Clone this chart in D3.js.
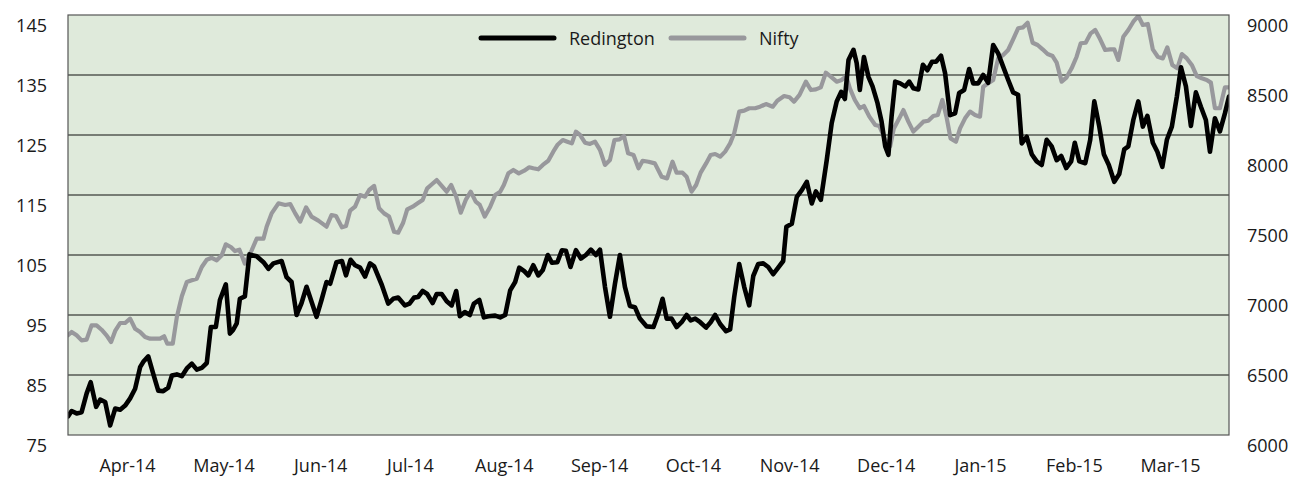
<!DOCTYPE html>
<html>
<head>
<meta charset="utf-8">
<script src="https://cdn.jsdelivr.net/npm/d3@7"></script>
<style>
  body { margin: 0; background: #fff; }
  svg text { font-family: "Open Sans", "Noto Sans", sans-serif; fill: #1a1a1a; }
</style>
</head>
<body>
<svg id="chart" width="1300" height="477"></svg>
<script>
// DATA  (x = trading day index)
var monthLabels = ["Apr-14", "May-14", "Jun-14", "Jul-14", "Aug-14", "Sep-14",
                   "Oct-14", "Nov-14", "Dec-14", "Jan-15", "Feb-15", "Mar-15"];
var monthDays = [13, 34.3, 55.6, 75.4, 96.1, 117.1, 137.8, 159, 180.3, 201.1, 221.8, 243];
var leftTicks = [75, 85, 95, 105, 115, 125, 135, 145];
var rightTicks = [6000, 6500, 7000, 7500, 8000, 8500, 9000];

var redington = [[0,78.1],[0.8,79.0],[1.9,78.6],[3.0,78.8],[4.1,81.9],[5.0,83.8],[6.2,79.7],[7.1,80.9],[8.2,80.5],[9.3,76.6],[10.4,79.4],[11.5,79.2],[12.6,79.9],[13.7,81.1],[14.8,82.7],[15.9,86.3],[16.6,87.2],[17.7,88.1],[18.8,85.2],[19.9,82.4],[21.0,82.3],[22.1,82.9],[22.9,84.9],[24.0,85.1],[25.1,84.8],[26.2,86.1],[27.3,86.9],[28.4,85.9],[29.5,86.2],[30.6,87.0],[31.5,93.0],[32.6,93.0],[33.5,97.5],[34.8,100.1],[35.7,91.9],[36.4,92.5],[37.2,93.6],[37.9,97.7],[39.0,98.1],[40.0,105.1],[41.6,104.8],[43.1,103.8],[44.2,102.7],[45.3,103.6],[47.1,104.0],[48.2,101.3],[49.3,100.5],[50.4,95.0],[51.5,97.0],[52.6,99.7],[53.7,97.2],[54.8,94.7],[55.9,97.5],[57.0,100.5],[57.8,100.2],[59.2,103.8],[60.4,104.0],[61.3,101.6],[62.3,104.2],[63.3,103.3],[64.4,102.9],[65.5,101.4],[66.6,103.6],[67.5,103.1],[69.2,100.0],[70.6,96.9],[71.7,97.7],[72.8,97.9],[74.3,96.6],[75.3,96.9],[76.3,97.9],[77.2,98.0],[78.2,99.0],[79.2,98.5],[80.4,97.0],[81.3,98.5],[82.4,98.5],[83.5,97.3],[84.6,96.6],[85.6,99.0],[86.4,94.8],[87.5,95.5],[88.6,95.0],[89.5,96.9],[90.7,97.5],[91.7,94.6],[92.7,94.8],[94.2,94.9],[95.3,94.6],[96.4,95.0],[97.5,99.1],[98.6,100.5],[99.5,102.9],[100.6,102.3],[101.5,101.6],[102.6,103.3],[103.7,101.6],[104.7,102.5],[105.8,105.0],[106.7,103.7],[107.9,103.8],[108.9,105.8],[109.8,105.7],[110.8,103.0],[112.0,105.8],[113.1,104.4],[114.2,105.0],[115.3,105.9],[116.4,105.0],[117.3,105.9],[118.4,99.7],[119.5,94.7],[120.6,100.2],[121.7,105.0],[122.8,99.7],[123.9,96.5],[125.0,96.3],[126.1,94.4],[127.6,93.1],[129.1,93.0],[130.2,95.3],[131.1,97.7],[132.0,94.4],[133.1,94.4],[134.2,93.0],[135.3,93.8],[136.4,95.0],[137.3,94.1],[138.3,94.4],[139.4,93.8],[140.7,92.9],[141.7,93.8],[142.7,95.0],[143.8,93.5],[145.1,92.3],[146.0,92.6],[146.9,98.0],[148.0,103.5],[149.1,99.7],[150.2,96.6],[151.1,101.5],[152.2,103.5],[153.3,103.6],[154.4,103.0],[155.5,101.8],[156.6,102.9],[157.7,104.0],[158.4,109.7],[159.6,110.2],[160.7,114.7],[161.8,115.8],[162.9,117.2],[164.0,113.6],[164.9,115.6],[166.0,114.2],[167.3,120.8],[168.4,127.0],[169.5,130.6],[170.5,132.2],[171.3,131.0],[172.1,137.5],[173.2,139.2],[173.9,137.0],[174.6,132.5],[175.5,138.0],[176.5,134.7],[177.4,133.1],[178.5,130.3],[179.4,127.2],[180.2,123.1],[180.9,121.7],[181.6,128.1],[182.4,133.9],[183.5,133.6],[184.6,133.1],[185.5,133.9],[186.4,132.8],[187.5,132.6],[188.5,136.7],[189.5,135.8],[190.5,137.2],[191.4,137.2],[192.5,138.2],[193.4,135.3],[194.5,128.3],[195.6,128.6],[196.5,132.0],[197.6,132.5],[198.7,136.0],[199.6,133.6],[200.7,133.6],[201.8,135.0],[202.9,133.7],[204.0,140.0],[205.1,138.6],[206.2,136.4],[207.3,134.2],[208.4,132.1],[209.5,131.7],[210.3,123.6],[211.4,124.7],[212.5,121.8],[213.6,120.6],[214.7,120.0],[215.8,124.2],[216.9,123.1],[218.0,120.8],[219.0,121.5],[220.1,119.5],[221.2,120.6],[222.0,123.7],[223.0,120.6],[224.3,120.3],[225.4,124.2],[226.3,130.6],[227.4,126.4],[228.4,121.8],[229.5,120.0],[230.7,117.2],[231.8,118.5],[232.9,122.6],[233.8,123.1],[234.9,127.5],[236.0,130.6],[237.0,126.4],[238.0,128.2],[239.2,123.7],[240.2,122.2],[241.3,119.7],[242.3,124.2],[243.4,126.4],[244.5,131.4],[245.4,136.3],[246.5,133.1],[247.6,126.5],[248.7,132.1],[249.8,129.7],[250.9,127.5],[251.8,122.2],[252.9,127.8],[254.0,125.6],[255.1,128.6],[256.0,131.4]];

var nifty = [[0,6712],[0.8,6736],[1.9,6712],[3.0,6676],[4.1,6681],[5.2,6783],[6.3,6783],[7.4,6752],[8.5,6712],[9.5,6664],[10.4,6743],[11.5,6800],[12.6,6800],[13.7,6831],[14.8,6759],[15.9,6736],[17.0,6700],[18.1,6688],[19.2,6688],[20.3,6688],[21.2,6705],[21.9,6652],[23.1,6652],[24.0,6843],[25.1,6991],[26.2,7093],[27.3,7105],[28.4,7116],[29.5,7200],[30.6,7252],[31.7,7266],[32.8,7248],[33.9,7284],[34.8,7362],[35.9,7343],[36.8,7314],[37.8,7324],[39.0,7224],[40.5,7319],[41.6,7402],[43.1,7402],[43.8,7488],[44.9,7583],[46.4,7655],[47.9,7643],[49.0,7650],[50.1,7583],[51.2,7524],[52.5,7626],[53.7,7560],[55.2,7531],[57.0,7488],[58.1,7571],[59.1,7564],[60.4,7483],[61.3,7493],[62.2,7602],[63.3,7631],[64.4,7714],[65.5,7702],[66.4,7750],[67.5,7779],[68.6,7619],[69.7,7583],[70.8,7560],[71.9,7452],[72.8,7445],[73.9,7516],[74.8,7612],[76.0,7631],[77.1,7655],[78.2,7679],[79.2,7762],[80.3,7793],[81.3,7821],[82.4,7779],[83.5,7738],[84.5,7786],[85.6,7702],[86.6,7588],[87.7,7679],[88.8,7738],[89.9,7667],[90.8,7643],[91.9,7560],[93.1,7631],[94.2,7714],[95.3,7738],[96.1,7786],[97.1,7869],[98.2,7893],[99.4,7869],[100.6,7888],[101.7,7912],[102.6,7905],[103.7,7898],[104.7,7929],[105.9,7959],[107.0,8024],[107.9,8071],[109.1,8107],[110.1,8095],[111.1,8083],[112.0,8167],[112.9,8143],[114.0,8088],[115.1,8079],[116.2,8095],[117.3,8036],[118.4,7929],[119.5,7964],[120.5,8107],[121.6,8112],[122.6,8136],[123.5,8012],[124.7,8000],[125.8,7905],[126.7,7959],[128.0,7952],[129.4,7940],[130.9,7845],[132.1,7833],[133.3,7952],[134.2,7874],[135.5,7874],[136.4,7845],[137.5,7738],[138.5,7786],[139.5,7874],[140.7,7940],[141.7,8000],[142.7,8007],[143.8,7988],[144.9,8024],[146.0,8083],[146.9,8155],[148.0,8310],[149.1,8317],[150.2,8334],[151.5,8334],[152.6,8345],[153.9,8364],[155.4,8345],[156.4,8388],[157.9,8421],[159.1,8412],[160.1,8381],[161.3,8429],[162.7,8524],[163.8,8464],[164.9,8469],[166.0,8483],[167.1,8588],[168.2,8560],[169.5,8524],[170.6,8536],[171.6,8564],[172.4,8476],[173.5,8393],[174.6,8334],[175.5,8350],[176.7,8274],[178.0,8214],[178.9,8207],[180.2,8107],[181.3,8064],[182.1,8190],[183.3,8262],[184.2,8321],[185.3,8238],[186.4,8167],[187.5,8202],[188.6,8238],[189.7,8245],[190.8,8279],[191.8,8286],[192.8,8393],[193.7,8274],[194.6,8119],[195.8,8095],[196.7,8190],[197.8,8262],[198.9,8310],[200.0,8286],[201.1,8274],[201.8,8488],[202.9,8512],[204.0,8536],[205.1,8690],[206.2,8714],[207.3,8750],[208.4,8826],[209.5,8905],[210.6,8912],[211.6,8945],[212.7,8802],[213.8,8786],[214.9,8755],[216.0,8721],[217.1,8707],[218.0,8660],[219.1,8524],[220.2,8555],[221.3,8619],[222.4,8702],[223.3,8798],[224.4,8802],[225.5,8869],[226.5,8893],[227.6,8826],[228.7,8750],[229.8,8755],[230.7,8755],[231.6,8679],[232.7,8845],[233.8,8893],[234.9,8952],[236.0,8993],[237.0,8929],[238.1,8936],[239.2,8755],[240.3,8702],[241.4,8690],[242.4,8769],[243.5,8643],[244.6,8619],[245.6,8721],[246.7,8690],[247.8,8643],[248.9,8564],[250.0,8548],[251.1,8536],[252.0,8517],[252.9,8334],[254.0,8334],[255.1,8483],[256.0,8483]];

// SETUP
var svg = d3.select("#chart"),
  margin = { top: 15, right: 71, bottom: 42, left: 68 },
  width = 1300 - margin.left - margin.right,
  height = 477 - margin.top - margin.bottom;

var x = d3.scaleLinear().domain([0, 256]).range([0, width]),
  yLeft = d3.scaleLinear().domain([75, 145]).range([height, 0]),
  yRight = d3.scaleLinear().domain([6000, 9000]).range([height, 0]);

var g = svg.append("g")
  .attr("transform", "translate(" + margin.left + "," + margin.top + ")");

// plot background
g.append("rect")
  .attr("width", width)
  .attr("height", height)
  .attr("fill", "#dfeadb");

// gridlines
g.selectAll(".grid")
  .data(leftTicks.slice(1, -1))
  .enter().append("line")
  .attr("class", "grid")
  .attr("x1", 0)
  .attr("x2", width)
  .attr("y1", function (d) { return yLeft(d); })
  .attr("y2", function (d) { return yLeft(d); })
  .attr("stroke", "#111")
  .attr("stroke-width", 1.2);

// axes
var axisLeft = g.append("g")
  .call(d3.axisLeft(yLeft).tickValues(leftTicks).tickSize(0).tickPadding(21));
var axisRight = g.append("g")
  .attr("transform", "translate(" + width + ",0)")
  .call(d3.axisRight(yRight).tickValues(rightTicks).tickSize(0).tickPadding(18)
    .tickFormat(d3.format("d")));
var axisBottom = g.append("g")
  .attr("transform", "translate(0," + height + ")")
  .call(d3.axisBottom(x).tickValues(monthDays).tickSize(0).tickPadding(24)
    .tickFormat(function (d, i) { return monthLabels[i]; }));

[axisLeft, axisRight, axisBottom].forEach(function (a) {
  a.select(".domain").remove();
  a.selectAll("text")
    .style("font-size", "18px")
    .attr("fill", "#1a1a1a");
});
axisLeft.selectAll("text").attr("dy", 16);
axisRight.selectAll("text").attr("dy", 16);

// lines
g.append("clipPath").attr("id", "plot-clip")
  .append("rect").attr("width", width).attr("height", height);

var series = [
  { name: "Redington", data: redington, y: yLeft, color: "#000000", width: 4.6 },
  { name: "Nifty", data: nifty, y: yRight, color: "#98989c", width: 4.2 }
];

series.slice().reverse().forEach(function (s) {
  var line = d3.line()
    .x(function (d) { return x(d[0]); })
    .y(function (d) { return s.y(d[1]); });
  g.append("path")
    .datum(s.data)
    .attr("clip-path", "url(#plot-clip)")
    .attr("fill", "none")
    .attr("stroke", s.color)
    .attr("stroke-width", s.width)
    .attr("stroke-linejoin", "round")
    .attr("stroke-linecap", "round")
    .attr("d", line);
});

// plot border
g.append("rect")
  .attr("width", width)
  .attr("height", height)
  .attr("fill", "none")
  .attr("stroke", "#555")
  .attr("stroke-width", 1.2);

// legend
var legendX = [413, 603];
var legend = g.selectAll(".legend")
  .data(series)
  .enter().append("g")
  .attr("class", "legend")
  .attr("transform", function (d, i) { return "translate(" + legendX[i] + ",23)"; });

legend.append("line")
  .attr("x1", 0).attr("x2", 73)
  .attr("stroke", function (d) { return d.color; })
  .attr("stroke-width", 5)
  .attr("stroke-linecap", "round");

legend.append("text")
  .attr("x", 88)
  .attr("dy", 6.5)
  .style("font-size", "18px")
  .text(function (d) { return d.name; });
</script>
</body>
</html>
